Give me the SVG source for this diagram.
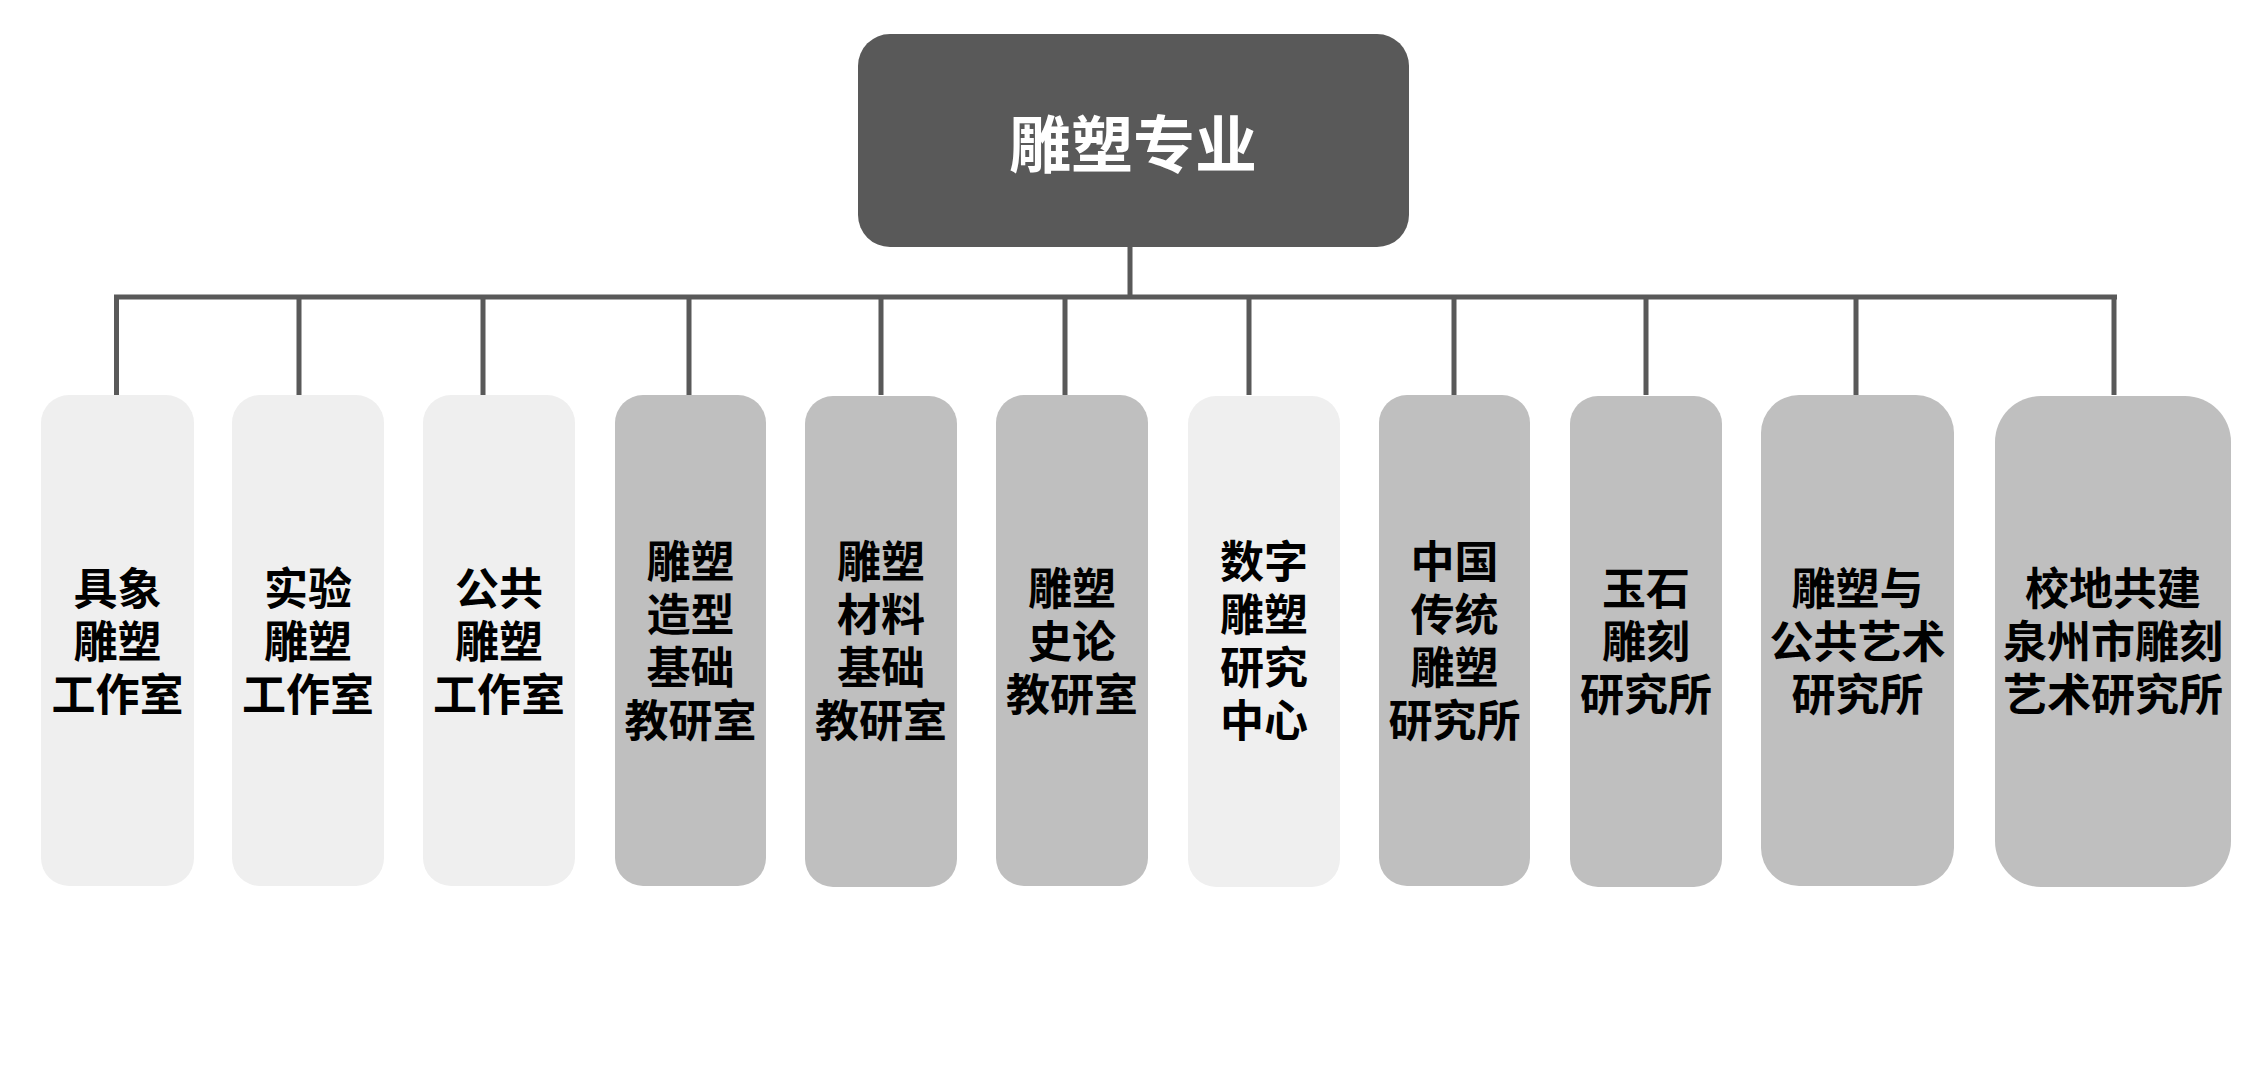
<svg xmlns="http://www.w3.org/2000/svg" width="2267" height="1080" viewBox="0 0 2267 1080">
<style>
.root{fill:#595959}
.light{fill:#efefef}
.mid{fill:#bfbfbf}
.conn{stroke:#595959;stroke-width:5;fill:none}
text{font-family:"Noto Sans CJK SC","Noto Sans",sans-serif;font-weight:700;text-anchor:middle}
.t{font-size:44px;fill:#000}
.tr{font-size:62px;fill:#fff}
</style>
<rect width="2267" height="1080" fill="#fff"/>
<g id="connectors">
<path class="conn" d="M1130 247V297M114 297H2117"/>
<path class="conn" d="M116.5 297V395M299 297V395M483 297V395M689 297V395M881 297V395M1065 297V395M1249 297V395M1454 297V395M1646 297V395M1856 297V395M2114 297V395"/>
</g>
<g id="root">
<rect class="root" x="858" y="34" width="551" height="213" rx="32"/>
<text class="tr" x="1133" y="168">雕塑专业</text>
</g>
<g id="n1">
<rect class="light" x="41" y="395" width="153" height="491" rx="28"/>
<text class="t" x="117.5" y="604.7">具象</text><text class="t" x="117.5" y="657.7">雕塑</text><text class="t" x="117.5" y="710.7">工作室</text>
</g>
<g id="n2">
<rect class="light" x="232" y="395" width="152" height="491" rx="28"/>
<text class="t" x="308" y="604.7">实验</text><text class="t" x="308" y="657.7">雕塑</text><text class="t" x="308" y="710.7">工作室</text>
</g>
<g id="n3">
<rect class="light" x="423" y="395" width="152" height="491" rx="28"/>
<text class="t" x="499" y="604.7">公共</text><text class="t" x="499" y="657.7">雕塑</text><text class="t" x="499" y="710.7">工作室</text>
</g>
<g id="n4">
<rect class="mid" x="615" y="395" width="151" height="491" rx="28"/>
<text class="t" x="690.5" y="578">雕塑</text><text class="t" x="690.5" y="631">造型</text><text class="t" x="690.5" y="684">基础</text><text class="t" x="690.5" y="737">教研室</text>
</g>
<g id="n5">
<rect class="mid" x="805" y="396" width="152" height="491" rx="28"/>
<text class="t" x="881" y="578">雕塑</text><text class="t" x="881" y="631">材料</text><text class="t" x="881" y="684">基础</text><text class="t" x="881" y="737">教研室</text>
</g>
<g id="n6">
<rect class="mid" x="996" y="395" width="152" height="491" rx="28"/>
<text class="t" x="1072" y="604.7">雕塑</text><text class="t" x="1072" y="657.7">史论</text><text class="t" x="1072" y="710.7">教研室</text>
</g>
<g id="n7">
<rect class="light" x="1188" y="396" width="152" height="491" rx="28"/>
<text class="t" x="1264" y="578">数字</text><text class="t" x="1264" y="631">雕塑</text><text class="t" x="1264" y="684">研究</text><text class="t" x="1264" y="737">中心</text>
</g>
<g id="n8">
<rect class="mid" x="1379" y="395" width="151" height="491" rx="28"/>
<text class="t" x="1454.5" y="578">中国</text><text class="t" x="1454.5" y="631">传统</text><text class="t" x="1454.5" y="684">雕塑</text><text class="t" x="1454.5" y="737">研究所</text>
</g>
<g id="n9">
<rect class="mid" x="1570" y="396" width="152" height="491" rx="28"/>
<text class="t" x="1646" y="604.7">玉石</text><text class="t" x="1646" y="657.7">雕刻</text><text class="t" x="1646" y="710.7">研究所</text>
</g>
<g id="n10">
<rect class="mid" x="1761" y="395" width="193" height="491" rx="38"/>
<text class="t" x="1857.5" y="604.7">雕塑与</text><text class="t" x="1857.5" y="657.7">公共艺术</text><text class="t" x="1857.5" y="710.7">研究所</text>
</g>
<g id="n11">
<rect class="mid" x="1995" y="396" width="236" height="491" rx="46"/>
<text class="t" x="2113" y="604.7">校地共建</text><text class="t" x="2113" y="657.7">泉州市雕刻</text><text class="t" x="2113" y="710.7">艺术研究所</text>
</g>
</svg>
